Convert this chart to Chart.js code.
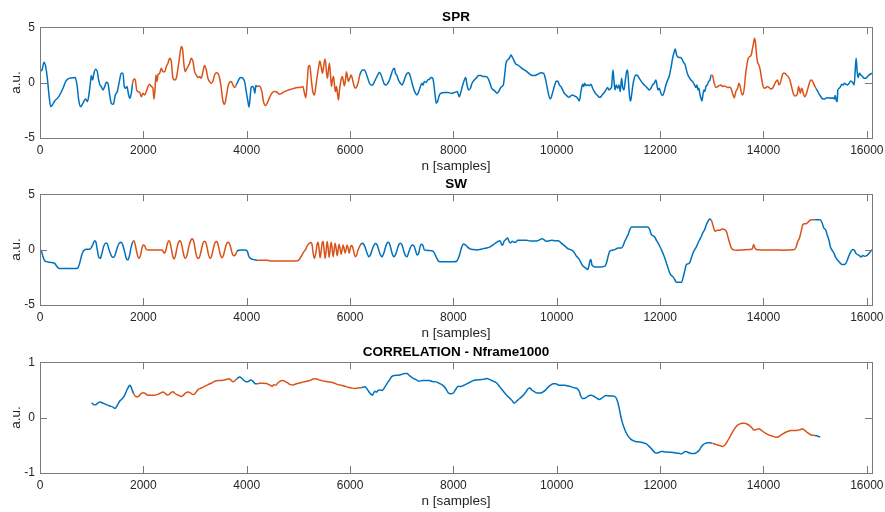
<!DOCTYPE html>
<html>
<head>
<meta charset="utf-8">
<script src="https://cdn.jsdelivr.net/npm/chart.js@4.4.1/dist/chart.umd.min.js"></script>
<style>
  html, body { margin: 0; padding: 0; background: #fff; }
  #wrap { position: relative; width: 885px; height: 512px; overflow: hidden; }
  #wrap canvas { position: absolute; left: 0; }
</style>
</head>
<body>
<div id="wrap">
  <canvas id="sprChart" width="885" height="175" style="top:0px"></canvas>
  <canvas id="swChart" width="885" height="175" style="top:167px"></canvas>
  <canvas id="corrChart" width="885" height="175" style="top:335px"></canvas>
</div>
<script>
// ---- data (sample index n, value in a.u.) ----
const xTicks = [0, 2000, 4000, 6000, 8000, 10000, 12000, 14000, 16000];
const xMax = 16100;
const yTicksSignal = [-5, 0, 5];
const yTicksCorr = [-1, 0, 1];
// sample ranges drawn in orange
const orangeRanges = [[1800, 3800], [4200, 6200], [13000, 15000]];

const sprN = [
  0, 39, 77, 110, 142, 174, 206, 239, 284, 348, 400, 445, 490, 542, 606, 683, 716, 754, 787, 819,
  851, 883, 916, 941, 974, 993, 1019, 1044, 1077, 1109, 1135, 1160, 1186, 1219, 1251, 1283, 1315, 1348, 1380, 1418,
  1457, 1496, 1535, 1573, 1605, 1631, 1657, 1683, 1715, 1741, 1767, 1792, 1818, 1844, 1870, 1896, 1928, 1960, 1992, 2025,
  2057, 2089, 2121, 2154, 2186, 2205, 2225, 2244, 2263, 2283, 2315, 2347, 2379, 2412, 2444, 2476, 2508, 2540, 2573, 2605,
  2637, 2670, 2702, 2734, 2760, 2786, 2811, 2837, 2863, 2895, 2927, 2960, 2992, 3024, 3057, 3089, 3121, 3153, 3185, 3218,
  3250, 3282, 3314, 3347, 3379, 3411, 3443, 3476, 3508, 3540, 3572, 3605, 3637, 3669, 3701, 3733, 3765, 3798, 3830, 3862,
  3894, 3927, 3959, 3991, 4024, 4045, 4067, 4086, 4112, 4138, 4157, 4177, 4202, 4235, 4260, 4293, 4325, 4364, 4396, 4441,
  4486, 4538, 4589, 4634, 4680, 4731, 4796, 4860, 4924, 4989, 5053, 5086, 5118, 5144, 5169, 5195, 5221, 5247, 5279, 5311,
  5337, 5363, 5389, 5414, 5440, 5466, 5492, 5517, 5543, 5563, 5582, 5601, 5621, 5640, 5659, 5679, 5698, 5717, 5737, 5756,
  5775, 5795, 5814, 5833, 5853, 5872, 5891, 5911, 5930, 5949, 5969, 5994, 6020, 6046, 6072, 6098, 6130, 6162, 6188, 6214,
  6246, 6278, 6310, 6343, 6375, 6407, 6439, 6471, 6504, 6536, 6568, 6600, 6633, 6665, 6697, 6729, 6762, 6794, 6826, 6858,
  6878, 6903, 6936, 6974, 7006, 7039, 7071, 7103, 7135, 7168, 7200, 7232, 7264, 7297, 7329, 7361, 7387, 7413, 7438, 7471,
  7503, 7535, 7567, 7600, 7619, 7645, 7670, 7696, 7729, 7761, 7825, 7890, 7954, 8019, 8075, 8112, 8147, 8180, 8212, 8238,
  8263, 8296, 8328, 8360, 8405, 8450, 8489, 8534, 8579, 8631, 8676, 8708, 8740, 8779, 8811, 8844, 8876, 8908, 8934, 8966,
  8992, 9018, 9050, 9082, 9114, 9134, 9166, 9211, 9243, 9308, 9372, 9437, 9501, 9566, 9630, 9695, 9746, 9778, 9811, 9843,
  9875, 9907, 9952, 9985, 10017, 10049, 10081, 10113, 10146, 10178, 10210, 10242, 10275, 10307, 10339, 10371, 10404, 10436, 10468, 10500,
  10520, 10539, 10565, 10597, 10629, 10661, 10694, 10726, 10758, 10790, 10823, 10855, 10887, 10919, 10951, 10984, 11010, 11035, 11061, 11087,
  11106, 11126, 11151, 11177, 11203, 11229, 11254, 11274, 11300, 11325, 11351, 11370, 11390, 11409, 11429, 11448, 11474, 11499, 11532, 11564,
  11596, 11628, 11661, 11693, 11725, 11757, 11790, 11822, 11854, 11886, 11918, 11938, 11957, 11983, 12015, 12047, 12080, 12112, 12144, 12177,
  12209, 12242, 12274, 12293, 12319, 12351, 12390, 12422, 12454, 12480, 12500, 12532, 12564, 12596, 12628, 12661, 12693, 12712, 12732, 12751,
  12770, 12790, 12809, 12828, 12848, 12867, 12886, 12912, 12938, 12964, 12989, 13015, 13047, 13080, 13112, 13144, 13176, 13209, 13241, 13273,
  13305, 13338, 13370, 13402, 13434, 13466, 13499, 13524, 13550, 13576, 13602, 13628, 13653, 13679, 13705, 13737, 13763, 13782, 13808, 13827,
  13847, 13866, 13885, 13911, 13937, 13963, 13989, 14014, 14047, 14079, 14111, 14143, 14176, 14208, 14240, 14272, 14298, 14324, 14350, 14382,
  14414, 14446, 14479, 14511, 14543, 14575, 14607, 14633, 14659, 14678, 14698, 14717, 14736, 14756, 14775, 14801, 14827, 14852, 14878, 14904,
  14930, 14955, 14981, 15013, 15046, 15078, 15110, 15149, 15187, 15226, 15265, 15304, 15342, 15368, 15388, 15407, 15426, 15439, 15465, 15491,
  15516, 15542, 15568, 15594, 15626, 15658, 15690, 15723, 15755, 15774, 15793, 15813, 15832, 15858, 15884, 15916, 15948, 15980, 16013, 16045,
  16100
];
const sprV = [
  1.05, 1.14, 1.84, 1.45, 0.39, -1.11, -2.17, -2.02, -1.66, -1.36, -0.96, -0.51, 0.03, 0.33, 0.42, 0.45, -0.21, -1.72, -2.17, -1.96,
  -1.66, -1.48, -1.72, -1.27, -0.06, 0.63, 0.24, 0.84, 1.2, 0.99, 0.24, -0.21, -0.36, -0.66, -0.36, 0.03, -0.06, -1.11, -1.87, -1.96,
  -1.11, -0.81, 0.09, 0.84, 0.84, -0.36, -0.51, -0.36, -1.11, -1.42, -0.96, -0.06, 0.33, 0.24, -0.66, -0.81, -0.87, -1.27, -0.96, -1.11,
  -0.81, -0.36, -0.15, -0.36, -0.51, -1.48, -0.66, 0.69, 0.09, 0.69, 0.84, 1.3, 0.99, 0.99, 1.45, 1.75, 2.2, 1.9, 0.39, 0.24,
  0.39, 1.3, 2.35, 3.25, 2.95, 1.6, 0.99, 1.23, 1.45, 1.75, 2.2, 1.9, 0.99, 0.69, 0.45, 0.54, 0.39, 0.99, 1.54, 1.14,
  0.39, 0.09, -0.06, 0.15, 0.69, 0.9, 0.84, 0.39, -0.51, -1.66, -1.96, -1.27, -0.36, 0.03, 0.09, -0.21, -0.45, -0.21, 0.09, 0.39,
  0.45, 0.39, 0.09, -0.81, -1.72, -2.2, -1.27, -0.45, -0.36, -0.51, -0.96, -0.27, -0.36, -0.3, -0.36, -0.81, -1.72, -2.08, -1.87, -1.36,
  -0.96, -0.81, -0.87, -1.05, -0.96, -0.81, -0.69, -0.6, -0.51, -0.45, -0.42, -0.36, -0.96, -1.36, -0.06, 1.45, 1.54, 0.39, -0.81, -1.11,
  -0.36, 0.54, 1.3, 1.96, 1.45, 0.84, 1.6, 2.14, 0.99, 0.39, 1.14, 1.75, 0.69, -0.36, 0.24, 0.54, -0.21, -0.81, -0.36, -0.96,
  -1.57, -0.66, -0.06, 0.39, 0.54, 0.09, -0.3, 0.24, 0.99, 0.54, 0.09, 0.39, 0.69, 0.33, -0.21, -0.51, -0.36, 0.09, 0.69, 0.99,
  1.14, 1.14, 0.84, 0.39, -0.06, -0.21, -0.21, 0.09, 0.39, 0.69, 0.93, 0.69, 0.24, -0.15, -0.21, -0.06, 0.24, 0.69, 1.14, 1.3,
  0.84, 0.69, 0.24, -0.06, -0.21, 0.09, 0.54, 0.84, 0.9, 0.54, -0.06, -0.57, -0.96, -1.11, -0.81, -0.36, -0.06, -0.21, 0.09, 0.03,
  0.24, 0.3, 0.45, 0.39, -0.06, -1.11, -1.87, -1.66, -1.11, -0.96, -0.9, -0.9, -0.96, -0.9, -0.81, -1.27, -0.81, -0.21, 0.24, 0.45,
  -0.21, -0.66, -0.51, -0.06, 0.24, 0.45, 0.63, 0.63, 0.54, 0.54, 0.33, -0.06, -0.51, -0.66, -0.81, -0.96, -0.81, -0.51, -0.36, -0.21,
  0.69, 1.75, 2.05, 2.2, 2.5, 2.35, 2.05, 1.66, 1.6, 1.36, 1.14, 0.93, 0.69, 0.63, 0.75, 0.9, 0.84, 0.39, -0.36, -1.11,
  -1.48, -1.11, -0.36, 0.09, 0.15, -0.21, -0.36, -0.66, -0.96, -1.11, -1.27, -1.33, -1.17, -1.11, -1.2, -1.27, -1.42, -1.66, -0.81, -0.15,
  -0.36, -0.06, -0.27, -0.21, -0.27, -0.15, -0.51, -0.81, -1.02, -1.17, -1.33, -1.27, -1.05, -0.9, -0.66, -0.45, -0.66, -0.57, -0.36, 1.14,
  0.24, -0.66, -0.21, -0.51, -0.21, -0.81, 0.39, -0.36, -0.66, 0.15, 0.99, 1.14, -0.06, -1.27, -1.66, -1.11, -0.21, 0.39, 0.69, 0.63,
  0.39, 0.15, -0.06, -0.21, -0.36, -0.51, -0.66, -0.51, -0.21, -0.06, 0.24, -0.21, -0.66, -0.51, -0.96, -1.17, -0.81, -0.21, 0.2, 0.6,
  1.3, 2.2, 2.8, 3.04, 2.5, 2.29, 2.26, 2.14, 1.81, 1.66, 1.3, 0.75, 0.45, 0.24, 0.09, -0.15, -0.45, -0.21, -0.66, -0.51,
  -1.05, -1.42, -1.66, -1.11, -0.66, -0.81, -0.36, -0.21, 0.09, 0.24, 0.69, 0.63, -0.06, -0.45, -0.36, -0.27, -0.21, -0.36, -0.3, -0.36,
  -0.45, -0.42, -0.51, -0.96, -1.36, -0.81, -0.51, -0.06, -0.36, -0.96, -1.11, -0.51, 0.69, 1.6, 2.2, 2.35, 2.5, 2.95, 3.55, 4.0,
  3.55, 2.5, 1.84, 1.6, 1.14, 0.39, -0.27, -0.51, -0.45, -0.36, -0.45, -0.57, -0.51, -0.21, 0.09, 0.24, -0.21, -0.06, 0.39, 0.84,
  0.84, 0.69, 0.54, 0.24, -0.36, -0.96, -1.2, -1.17, -0.96, -0.36, -0.66, -0.96, -0.51, -0.66, -1.05, -1.27, -1.05, -0.66, -0.21, 0.15,
  0.24, 0.09, -0.21, -0.51, -0.75, -1.05, -1.27, -1.48, -1.48, -1.36, -1.36, -1.42, -1.36, -1.48, -1.17, -1.57, -1.72, -0.66, -0.51, -0.36,
  -0.15, -0.21, -0.06, -0.15, -0.21, -0.06, 0.15, 0.03, -0.21, 0.99, 2.2, 0.99, 0.45, 0.84, 0.69, 0.54, 0.39, 0.39, 0.54, 0.69,
  0.85
];

const swN = [
  0, 26, 58, 90, 122, 187, 251, 284, 316, 348, 380, 477, 606, 703, 735, 767, 799, 832, 864, 896,
  960, 993, 1025, 1057, 1083, 1109, 1141, 1167, 1199, 1231, 1270, 1296, 1328, 1360, 1392, 1431, 1463, 1496, 1534, 1573,
  1605, 1637, 1670, 1702, 1734, 1766, 1799, 1818, 1844, 1870, 1895, 1921, 1947, 1972, 1998, 2024, 2050, 2089, 2185, 2282,
  2359, 2385, 2411, 2437, 2462, 2495, 2520, 2546, 2572, 2598, 2624, 2656, 2688, 2714, 2746, 2778, 2811, 2843, 2875, 2914,
  2946, 2978, 3010, 3043, 3075, 3107, 3139, 3172, 3197, 3230, 3262, 3294, 3326, 3359, 3391, 3423, 3455, 3488, 3520, 3552,
  3584, 3616, 3649, 3681, 3713, 3745, 3778, 3810, 3842, 3894, 3958, 4010, 4041, 4074, 4119, 4164, 4202, 4280, 4409, 4473,
  4667, 4860, 4989, 5021, 5053, 5086, 5118, 5150, 5182, 5215, 5247, 5266, 5286, 5311, 5337, 5363, 5382, 5402, 5421, 5440,
  5460, 5479, 5498, 5517, 5537, 5556, 5575, 5595, 5614, 5633, 5653, 5672, 5692, 5711, 5730, 5750, 5769, 5788, 5808, 5827,
  5846, 5866, 5885, 5904, 5924, 5943, 5962, 5982, 6001, 6020, 6046, 6072, 6098, 6123, 6149, 6175, 6201, 6233, 6265, 6298,
  6330, 6362, 6394, 6426, 6459, 6491, 6523, 6555, 6588, 6620, 6652, 6684, 6716, 6749, 6781, 6813, 6845, 6878, 6910, 6942,
  6974, 7006, 7039, 7071, 7103, 7135, 7168, 7200, 7232, 7264, 7297, 7329, 7355, 7374, 7406, 7438, 7471, 7535, 7600, 7632,
  7664, 7696, 7729, 7825, 7922, 8000, 8064, 8097, 8129, 8161, 8193, 8225, 8258, 8322, 8386, 8451, 8515, 8580, 8644, 8708,
  8773, 8837, 8869, 8902, 8934, 8953, 8979, 9011, 9050, 9075, 9108, 9140, 9172, 9211, 9243, 9288, 9352, 9417, 9481, 9545,
  9610, 9674, 9719, 9751, 9790, 9835, 9900, 9964, 10026, 10073, 10125, 10176, 10222, 10267, 10318, 10351, 10383, 10415, 10447, 10480,
  10512, 10557, 10595, 10621, 10640, 10660, 10679, 10705, 10737, 10801, 10866, 10930, 10962, 10994, 11026, 11078, 11123, 11188, 11252, 11284,
  11316, 11348, 11380, 11413, 11445, 11509, 11606, 11703, 11767, 11799, 11831, 11864, 11896, 11928, 11960, 11992, 12025, 12057, 12089, 12121,
  12153, 12185, 12218, 12250, 12282, 12314, 12346, 12391, 12417, 12443, 12475, 12508, 12540, 12572, 12604, 12636, 12669, 12701, 12733, 12765,
  12798, 12830, 12862, 12894, 12926, 12959, 12991, 13010, 13036, 13062, 13100, 13152, 13203, 13249, 13281, 13313, 13345, 13378, 13410, 13474,
  13603, 13731, 13783, 13809, 13834, 13860, 13957, 14118, 14246, 14375, 14504, 14600, 14632, 14665, 14697, 14729, 14761, 14794, 14826, 14877,
  14922, 14987, 15051, 15097, 15135, 15167, 15200, 15232, 15264, 15296, 15329, 15361, 15393, 15438, 15483, 15522, 15567, 15599, 15631, 15663,
  15696, 15728, 15760, 15792, 15824, 15856, 15889, 15921, 15953, 15998, 16049, 16100
];
const swV = [
  0, -0.12, -0.64, -1.0, -1.09, -1.15, -1.18, -1.24, -1.45, -1.64, -1.7, -1.7, -1.7, -1.7, -1.64, -1.24, -0.64, -0.18, -0.03, 0.03,
  0.03, 0.18, 0.48, 0.79, 0.67, -0.03, -0.73, -0.79, -0.33, 0.27, 0.58, 0.58, 0.12, -0.33, -0.64, -0.7, -0.33, 0.18, 0.58, 0.67,
  0.36, -0.18, -0.79, -0.94, -0.48, 0.27, 0.73, 0.79, 0.42, -0.18, -0.64, -0.79, -0.48, 0.12, 0.42, 0.36, 0.06, -0.03, -0.03, -0.03,
  -0.03, -0.18, -0.33, -0.03, 0.48, 0.79, 0.58, -0.03, -0.64, -0.85, -0.48, 0.27, 0.73, 0.79, 0.36, -0.42, -0.79, -0.55, 0.18, 0.79,
  0.97, 0.67, -0.18, -0.73, -0.79, -0.33, 0.33, 0.73, 0.73, 0.27, -0.48, -0.79, -0.48, 0.18, 0.67, 0.73, 0.27, -0.42, -0.73, -0.48,
  0.12, 0.58, 0.67, 0.36, -0.24, -0.55, -0.48, -0.18, -0.06, -0.03, -0.03, -0.12, -0.6, -0.79, -0.88, -0.94, -0.97, -0.97, -0.97, -1.03,
  -1.03, -1.03, -1.0, -0.88, -0.64, -0.33, -0.12, 0.12, 0.42, 0.58, 0.64, 0.42, -0.33, -0.79, -0.33, 0.48, 0.67, -0.03, -0.73, -0.18,
  0.58, 0.73, -0.03, -0.79, -0.12, 0.73, 0.18, -0.7, -0.03, 0.67, 0.12, -0.64, -0.03, 0.58, 0.12, -0.55, -0.03, 0.48, 0.06, -0.42,
  -0.03, 0.42, 0.06, -0.33, 0.06, 0.42, 0.12, -0.33, 0.06, 0.36, 0.27, -0.18, -0.64, -0.55, -0.12, 0.18, 0.42, 0.58, 0.48, 0.12,
  -0.33, -0.64, -0.48, -0.03, 0.36, 0.55, 0.42, -0.03, -0.48, -0.64, -0.33, 0.18, 0.58, 0.67, 0.27, -0.33, -0.64, -0.48, -0.03, 0.42,
  0.58, 0.42, -0.12, -0.55, -0.64, -0.24, 0.18, 0.42, 0.36, -0.03, -0.48, -0.33, 0.27, 0.48, 0.42, -0.03, -0.06, -0.09, -0.12, -0.33,
  -0.64, -0.94, -1.09, -1.09, -1.09, -1.1, -1.05, -0.75, -0.3, 0.24, 0.51, 0.45, 0.3, 0.06, 0, -0.03, 0, 0.09, 0.15, 0.24,
  0.45, 0.66, 0.75, 0.81, 0.45, 0.39, 0.75, 0.9, 1.05, 0.75, 0.6, 0.75, 0.66, 0.69, 0.84, 0.84, 0.84, 0.84, 0.78, 0.78,
  0.78, 0.9, 0.99, 0.9, 0.75, 0.78, 0.84, 0.81, 0.81, 0.66, 0.45, 0.24, 0.06, 0, -0.15, -0.36, -0.6, -0.75, -0.99, -1.29,
  -1.5, -1.65, -1.8, -1.5, -1.05, -0.9, -1.35, -1.5, -1.56, -1.56, -1.56, -1.5, -1.2, -0.6, -0.15, -0.06, 0, 0.15, 0.15, 0.36,
  0.75, 1.05, 1.35, 1.8, 2.04, 2.04, 2.04, 2.04, 2.04, 1.8, 1.35, 1.26, 1.14, 0.84, 0.6, 0.3, 0, -0.36, -0.75, -1.2,
  -1.65, -2.1, -2.34, -2.46, -2.7, -2.94, -2.94, -2.94, -2.94, -2.55, -1.95, -1.35, -1.29, -1.2, -0.75, -0.3, 0, 0.24, 0.6, 0.9,
  1.2, 1.56, 1.8, 2.25, 2.55, 2.76, 2.64, 2.4, 1.95, 1.65, 1.74, 1.74, 1.86, 1.8, 1.65, 1.14, 0.6, 0.15, 0, -0.06,
  -0.03, 0, 0.06, 0.45, 0.15, 0, -0.03, -0.03, -0.03, -0.06, -0.03, 0, 0.24, 0.75, 1.05, 1.65, 2.25, 2.34, 2.34, 2.55,
  2.7, 2.7, 2.7, 2.7, 2.4, 1.95, 1.8, 1.35, 0.9, 0.24, -0.06, -0.3, -0.66, -0.96, -1.2, -1.35, -1.35, -1.2, -0.84, -0.45,
  -0.15, 0, -0.06, -0.36, -0.45, -0.54, -0.66, -0.54, -0.6, -0.54, -0.3, 0
];

const corrN = [
  1000, 1039, 1077, 1123, 1168, 1219, 1284, 1348, 1413, 1452, 1477, 1510, 1542, 1594, 1639, 1671, 1703, 1735, 1755, 1781,
  1813, 1852, 1890, 1929, 1968, 2006, 2045, 2084, 2135, 2200, 2265, 2316, 2381, 2413, 2458, 2497, 2535, 2574, 2613, 2652,
  2690, 2735, 2774, 2819, 2865, 2910, 2961, 3006, 3058, 3123, 3187, 3252, 3316, 3381, 3445, 3490, 3542, 3594, 3658, 3703,
  3735, 3774, 3813, 3865, 3910, 3948, 3994, 4039, 4077, 4123, 4168, 4206, 4252, 4316, 4381, 4432, 4465, 4497, 4523, 4561,
  4600, 4639, 4690, 4742, 4794, 4845, 4897, 4961, 5026, 5090, 5155, 5219, 5284, 5335, 5387, 5445, 5510, 5574, 5639, 5703,
  5768, 5832, 5897, 5961, 6026, 6090, 6155, 6219, 6284, 6316, 6348, 6381, 6413, 6432, 6458, 6484, 6510, 6542, 6574, 6606,
  6639, 6671, 6703, 6735, 6768, 6800, 6865, 6929, 6994, 7058, 7103, 7142, 7187, 7232, 7284, 7335, 7400, 7465, 7529, 7594,
  7660, 7723, 7790, 7850, 7903, 7948, 8000, 8052, 8097, 8142, 8193, 8258, 8322, 8386, 8451, 8515, 8580, 8644, 8708, 8773,
  8837, 8902, 8966, 9030, 9095, 9146, 9172, 9211, 9256, 9307, 9352, 9404, 9449, 9481, 9513, 9558, 9610, 9661, 9706, 9751,
  9790, 9835, 9880, 9932, 9983, 10028, 10093, 10157, 10222, 10286, 10351, 10396, 10434, 10466, 10498, 10531, 10576, 10627, 10672, 10717,
  10769, 10821, 10865, 10911, 10962, 11026, 11091, 11142, 11175, 11207, 11239, 11271, 11303, 11336, 11381, 11426, 11477, 11542, 11606, 11671,
  11735, 11786, 11831, 11877, 11915, 11954, 11993, 12025, 12070, 12121, 12185, 12250, 12314, 12366, 12404, 12443, 12488, 12527, 12572, 12617,
  12669, 12714, 12752, 12791, 12830, 12875, 12926, 12971, 13010, 13055, 13100, 13152, 13203, 13249, 13294, 13345, 13397, 13442, 13493, 13538,
  13589, 13634, 13679, 13731, 13776, 13815, 13860, 13912, 13957, 14002, 14053, 14118, 14182, 14234, 14279, 14324, 14375, 14427, 14478, 14536,
  14600, 14665, 14716, 14761, 14806, 14858, 14903, 14954, 14999, 15051, 15097
];
const corrV = [
  0.265, 0.235, 0.23, 0.265, 0.28, 0.26, 0.235, 0.21, 0.19, 0.165, 0.19, 0.245, 0.295, 0.345, 0.405, 0.475, 0.535, 0.585, 0.565, 0.505,
  0.43, 0.38, 0.375, 0.405, 0.44, 0.45, 0.43, 0.405, 0.405, 0.405, 0.415, 0.435, 0.46, 0.445, 0.41, 0.415, 0.45, 0.465, 0.435, 0.415,
  0.4, 0.38, 0.405, 0.445, 0.46, 0.445, 0.415, 0.44, 0.505, 0.535, 0.565, 0.595, 0.62, 0.655, 0.67, 0.67, 0.675, 0.685, 0.7, 0.67,
  0.645, 0.67, 0.705, 0.735, 0.705, 0.67, 0.645, 0.655, 0.68, 0.655, 0.61, 0.61, 0.62, 0.62, 0.615, 0.595, 0.58, 0.565, 0.595, 0.585,
  0.625, 0.655, 0.67, 0.655, 0.625, 0.595, 0.59, 0.61, 0.625, 0.64, 0.655, 0.67, 0.695, 0.7, 0.685, 0.67, 0.655, 0.645, 0.64, 0.62,
  0.595, 0.585, 0.565, 0.55, 0.535, 0.525, 0.535, 0.54, 0.555, 0.535, 0.49, 0.445, 0.415, 0.405, 0.445, 0.475, 0.46, 0.49, 0.5, 0.49,
  0.505, 0.55, 0.595, 0.645, 0.685, 0.735, 0.76, 0.765, 0.777, 0.795, 0.795, 0.765, 0.73, 0.705, 0.68, 0.655, 0.67, 0.67, 0.67, 0.65,
  0.645, 0.62, 0.585, 0.525, 0.445, 0.43, 0.445, 0.52, 0.565, 0.56, 0.58, 0.61, 0.64, 0.67, 0.68, 0.685, 0.69, 0.705, 0.685, 0.655,
  0.625, 0.55, 0.475, 0.405, 0.345, 0.295, 0.26, 0.285, 0.325, 0.365, 0.405, 0.465, 0.525, 0.535, 0.5, 0.475, 0.445, 0.445, 0.45, 0.475,
  0.505, 0.55, 0.585, 0.61, 0.61, 0.59, 0.585, 0.585, 0.57, 0.555, 0.535, 0.525, 0.475, 0.385, 0.345, 0.345, 0.365, 0.4, 0.405, 0.385,
  0.355, 0.325, 0.345, 0.38, 0.4, 0.39, 0.39, 0.365, 0.295, 0.175, 0.025, -0.095, -0.185, -0.26, -0.335, -0.385, -0.415, -0.435, -0.44, -0.455,
  -0.475, -0.52, -0.56, -0.61, -0.64, -0.64, -0.62, -0.61, -0.615, -0.62, -0.625, -0.63, -0.64, -0.645, -0.655, -0.64, -0.61, -0.62, -0.64, -0.65,
  -0.65, -0.625, -0.595, -0.535, -0.49, -0.465, -0.455, -0.455, -0.465, -0.475, -0.49, -0.505, -0.52, -0.5, -0.44, -0.355, -0.265, -0.2, -0.14, -0.115,
  -0.1, -0.1, -0.115, -0.145, -0.185, -0.225, -0.215, -0.2, -0.225, -0.26, -0.29, -0.32, -0.335, -0.355, -0.35, -0.325, -0.295, -0.265, -0.245, -0.235,
  -0.235, -0.23, -0.215, -0.205, -0.235, -0.275, -0.305, -0.32, -0.325, -0.335, -0.35
];

// ---- styling ----
const BLUE = '#0072BD';
const ORANGE = '#D95319';
const AXIS_COLOR = '#262626';
const BOX_COLOR = '#7a7a7a';
const FONT = "'Liberation Sans', Helvetica, Arial, sans-serif";

function inOrange(a, b) {
  const mid = (a + b) / 2;
  return orangeRanges.some(([s, e]) => mid >= s && mid <= e);
}

// MATLAB-like box with inward tick marks on all four sides
const matlabAxes = {
  id: 'matlabAxes',
  afterDraw(chart) {
    const { ctx, chartArea: a, scales: { x, y } } = chart;
    const len = 7;
    ctx.save();
    ctx.strokeStyle = BOX_COLOR;
    ctx.lineWidth = 1;
    ctx.beginPath();
    x.ticks.forEach(t => {
      const px = Math.round(x.getPixelForValue(t.value)) + 0.5;
      ctx.moveTo(px, a.top); ctx.lineTo(px, a.top + len);
      ctx.moveTo(px, a.bottom); ctx.lineTo(px, a.bottom - len);
    });
    y.ticks.forEach(t => {
      const py = Math.round(y.getPixelForValue(t.value)) + 0.5;
      ctx.moveTo(a.left, py); ctx.lineTo(a.left + len, py);
      ctx.moveTo(a.right, py); ctx.lineTo(a.right - len, py);
    });
    ctx.stroke();
    ctx.strokeRect(Math.round(a.left) + 0.5, Math.round(a.top) + 0.5,
      Math.round(a.right) - Math.round(a.left), Math.round(a.bottom) - Math.round(a.top));
    ctx.restore();
  }
};

function makeChart(id, title, nArr, vArr, yTicks) {
  const points = nArr.map((n, i) => ({ x: n, y: vArr[i] }));
  return new Chart(document.getElementById(id), {
    type: 'line',
    data: {
      datasets: [{
        data: points,
        borderColor: BLUE,
        borderWidth: 1.5,
        pointRadius: 0,
        cubicInterpolationMode: 'monotone',
        segment: {
          borderColor: c => inOrange(c.p0.parsed.x, c.p1.parsed.x) ? ORANGE : BLUE
        }
      }]
    },
    options: {
      responsive: false,
      animation: false,
      devicePixelRatio: 1,
      events: [],
      layout: { padding: { left: 0, right: 13, top: 0, bottom: 0 } },
      plugins: {
        legend: { display: false },
        tooltip: { enabled: false },
        title: {
          display: true,
          text: title,
          fullSize: false,
          color: '#000',
          font: { family: FONT, size: 13.5, weight: 'bold' },
          padding: { top: 9, bottom: 2 }
        }
      },
      scales: {
        x: {
          type: 'linear',
          min: 0,
          max: xMax,
          afterBuildTicks: s => { s.ticks = xTicks.map(value => ({ value })); },
          afterFit: s => { s.height = 37; s.paddingLeft = 0; s.paddingRight = 0; },
          grid: { display: false, drawTicks: false },
          border: { display: false },
          ticks: {
            color: AXIS_COLOR,
            font: { family: FONT, size: 12 },
            padding: 5,
            maxRotation: 0,
            autoSkip: false,
            callback: v => String(v)
          },
          title: {
            display: true,
            text: 'n [samples]',
            color: AXIS_COLOR,
            font: { family: FONT, size: 13.5 },
            padding: { top: 0, bottom: 1 }
          }
        },
        y: {
          min: yTicks[0],
          max: yTicks[yTicks.length - 1],
          afterBuildTicks: s => { s.ticks = yTicks.map(value => ({ value })); },
          afterFit: s => { s.width = 40; s.paddingTop = 0; s.paddingBottom = 0; },
          grid: { display: false, drawTicks: false },
          border: { display: false },
          ticks: {
            color: AXIS_COLOR,
            font: { family: FONT, size: 12 },
            padding: 5,
            callback: v => String(v)
          },
          title: {
            display: true,
            text: 'a.u.',
            color: AXIS_COLOR,
            font: { family: FONT, size: 13.5 },
            padding: { top: 8, bottom: 0 }
          }
        }
      }
    },
    plugins: [matlabAxes]
  });
}

makeChart('sprChart', 'SPR', sprN, sprV, yTicksSignal);
makeChart('swChart', 'SW', swN, swV, yTicksSignal);
makeChart('corrChart', 'CORRELATION - Nframe1000', corrN, corrV, yTicksCorr);
</script>
</body>
</html>
